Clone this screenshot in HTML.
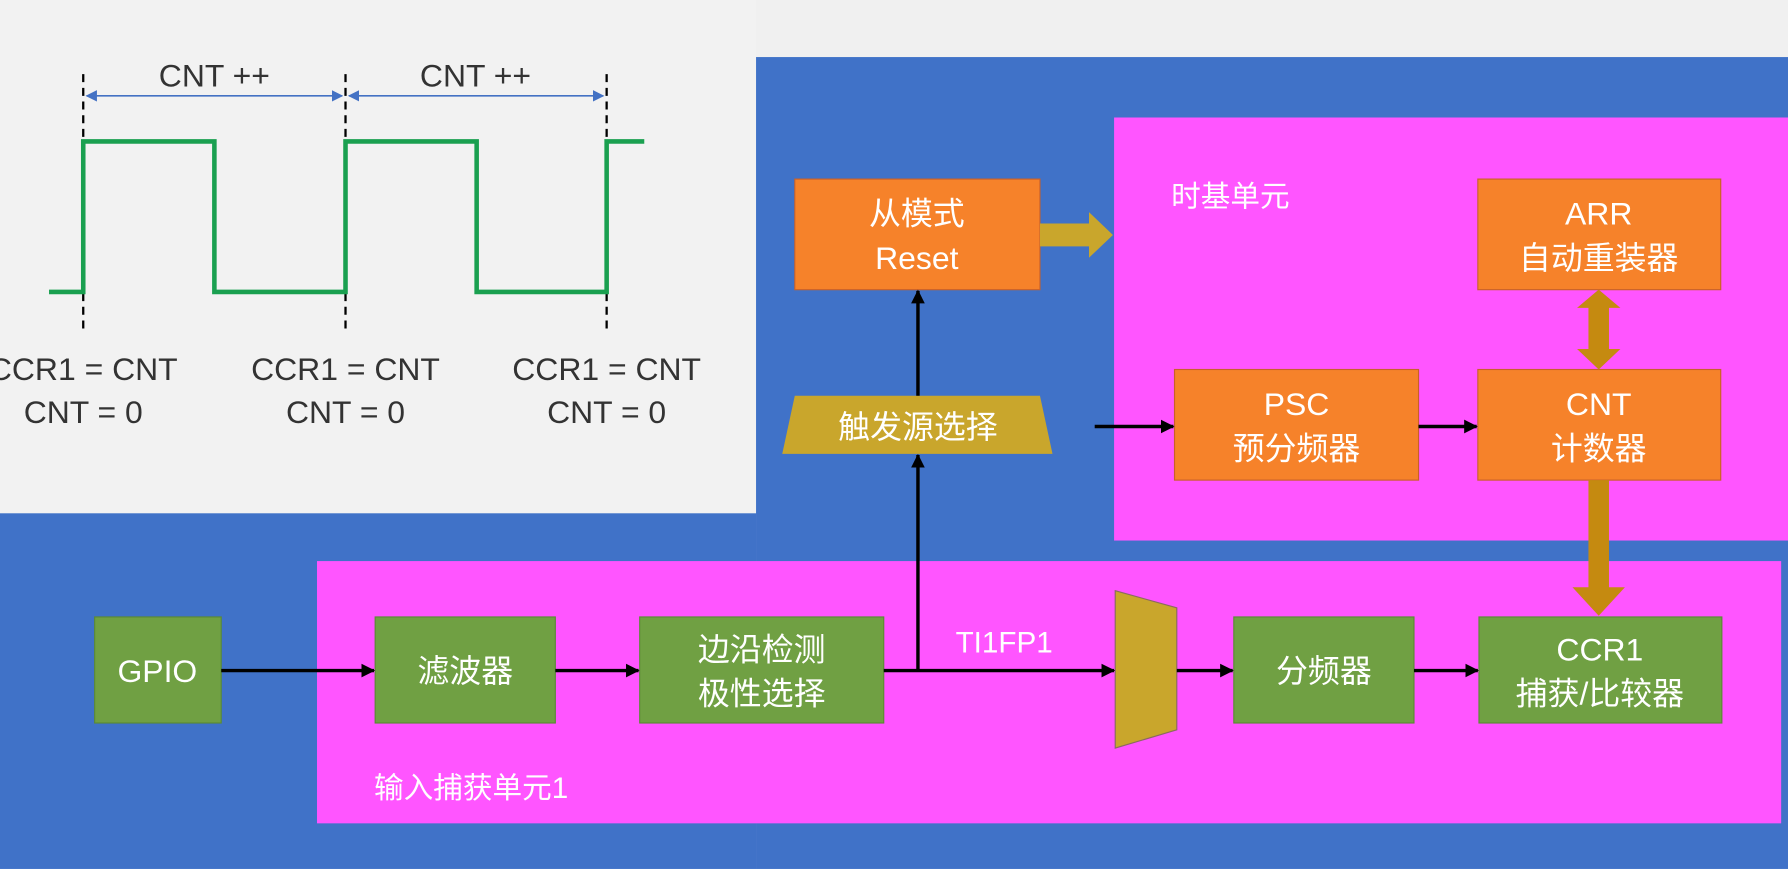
<!DOCTYPE html>
<html><head><meta charset="utf-8"><style>
html,body{margin:0;padding:0;background:#f0f0f0;}
svg{display:block;}
text{font-family:"Liberation Sans","Noto Sans CJK SC",sans-serif;}
</style></head><body>
<svg width="1788" height="869" viewBox="0 0 1568 762" xmlns="http://www.w3.org/2000/svg">
<defs>
<marker id="ah" markerWidth="12" markerHeight="12" refX="11" refY="6" orient="auto" markerUnits="userSpaceOnUse"><path d="M0,0 L12,6 L0,12 z" fill="#000"/></marker>
<marker id="ab" markerWidth="10" markerHeight="10" refX="9" refY="5" orient="auto-start-reverse" markerUnits="userSpaceOnUse"><path d="M0,0 L10,5 L0,10 z" fill="#4472c4"/></marker>
</defs>
<rect x="0" y="0" width="1568" height="762" fill="#f0f0f0"/>
<rect x="663" y="50" width="905" height="712" fill="#4072c8"/>
<rect x="0" y="450" width="663" height="312" fill="#4072c8"/>
<rect x="0" y="0" width="663" height="450" fill="#f2f2f2"/>
<rect x="977" y="103" width="591" height="371" fill="#ff55ff"/>
<rect x="278" y="492" width="1284" height="230" fill="#ff55ff"/>
<g stroke="#000" stroke-width="2" stroke-dasharray="7,5">
<line x1="73" y1="65" x2="73" y2="290"/><line x1="303" y1="65" x2="303" y2="290"/><line x1="532" y1="65" x2="532" y2="290"/>
</g>
<line x1="76" y1="84" x2="300" y2="84" stroke="#4472c4" stroke-width="1.5" marker-start="url(#ab)" marker-end="url(#ab)"/>
<line x1="306" y1="84" x2="529" y2="84" stroke="#4472c4" stroke-width="1.5" marker-start="url(#ab)" marker-end="url(#ab)"/>
<polyline points="43,256 73,256 73,124 188,124 188,256 303,256 303,124 418,124 418,256 532,256 532,124 565,124" fill="none" stroke="#1aa050" stroke-width="4"/>
<g font-size="28" fill="#333" text-anchor="middle">
<text x="188" y="76">CNT ++</text><text x="417" y="76">CNT ++</text>
<text x="73" y="333">CCR1 = CNT</text><text x="303" y="333">CCR1 = CNT</text><text x="532" y="333">CCR1 = CNT</text>
<text x="73" y="371">CNT = 0</text><text x="303" y="371">CNT = 0</text><text x="532" y="371">CNT = 0</text>
</g>
<g fill="#f6822a" stroke="#c8602a" stroke-width="1">
<rect x="697" y="157" width="215" height="97"/>
<rect x="1296" y="157" width="213" height="97"/>
<rect x="1030" y="324" width="214" height="97"/>
<rect x="1296" y="324" width="213" height="97"/>
</g>
<g fill="#70a043" stroke="#5a8a35" stroke-width="1">
<rect x="83" y="541" width="111" height="93"/>
<rect x="329" y="541" width="158" height="93"/>
<rect x="561" y="541" width="214" height="93"/>
<rect x="1082" y="541" width="158" height="93"/>
<rect x="1297" y="541" width="213" height="93"/>
</g>
<polygon points="697,347 912,347 923,398 686,398" fill="#c9a62c"/>
<polygon points="978,518 1032,533 1032,640 978,656" fill="#c9a62c" stroke="#8a6a60" stroke-width="1"/>
<polygon points="912,196 955,196 955,186 976,206 955,226 955,216 912,216" fill="#c9a62c"/>
<polygon points="1393,270 1393,306 1383,306 1402,324 1421,306 1411,306 1411,270 1421,270 1402,254 1383,270" fill="#c58a10"/>
<polygon points="1393,421 1411,421 1411,515 1425,515 1402,540 1379,515 1393,515" fill="#c58a10"/>
<g stroke="#000" stroke-width="3" fill="none">
<line x1="194" y1="588" x2="328" y2="588" marker-end="url(#ah)"/>
<line x1="487" y1="588" x2="560" y2="588" marker-end="url(#ah)"/>
<line x1="775" y1="588" x2="977" y2="588" marker-end="url(#ah)"/>
<line x1="1032" y1="588" x2="1081" y2="588" marker-end="url(#ah)"/>
<line x1="1240" y1="588" x2="1296" y2="588" marker-end="url(#ah)"/>
<line x1="805" y1="588" x2="805" y2="399" marker-end="url(#ah)"/>
<line x1="805" y1="347" x2="805" y2="255" marker-end="url(#ah)"/>
<line x1="960" y1="374" x2="1029" y2="374" marker-end="url(#ah)"/>
<line x1="1244" y1="374" x2="1295" y2="374" marker-end="url(#ah)"/>
</g>
<g font-size="28" fill="#fff" text-anchor="middle">
<text x="804" y="197">从模式</text><text x="804" y="236">Reset</text>
<text x="1402" y="197">ARR</text><text x="1402" y="236">自动重装器</text>
<text x="1137" y="364">PSC</text><text x="1137" y="403">预分频器</text>
<text x="1402" y="364">CNT</text><text x="1402" y="403">计数器</text>
<text x="805" y="384">触发源选择</text>
<text x="138" y="598">GPIO</text>
<text x="408" y="598">滤波器</text>
<text x="668" y="579">边沿检测</text><text x="668" y="618">极性选择</text>
<text x="1161" y="598">分频器</text>
<text x="1403" y="579">CCR1</text><text x="1403" y="618">捕获/比较器</text>
</g>
<g font-size="26" fill="#fff">
<text x="1027" y="181">时基单元</text>
<text x="838" y="572">TI1FP1</text>
<text x="328" y="700">输入捕获单元1</text>
</g>
</svg>
</body></html>
